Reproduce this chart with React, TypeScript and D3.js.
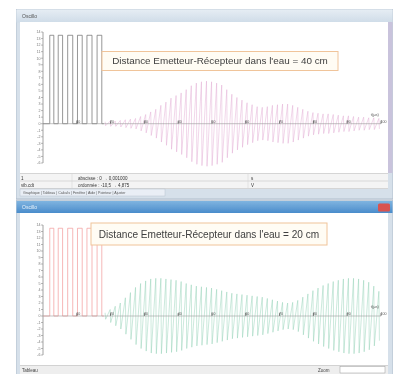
import React from "react";
import * as d3 from "d3";

// ---- data ----
const timeDomain = [0, 100];
const ampDomain = [-6, 14];
const ampTicks = d3.range(-6, 15, 1);
const timeMarks = [10, 20, 30, 40, 50, 60, 70, 80, 90, 100];

// emitter square wave: edge times and high level
const pulseEdges = [2, 3.2, 4.5, 5.8, 7.3, 8.8, 10.2, 11.6, 13, 14.5, 16, 17.4];
const pulseHigh = 13.5;

// received signal: one amplitude per cycle, starting at burstStart, period burstPeriod
const burstStart = 18;
const burstPeriod = 1.5;
const amp40cm = [
  0.3, 0.4, 0.4, 0.5, 0.6, 0.7, 0.8, 1.1,
  1.4, 1.8, 2.2, 2.8, 3.3, 3.9, 4.3, 4.7, 5.2, 5.8,
  6.2, 6.4, 6.5, 6.4, 6.2, 5.9,
  5.2, 4.5, 4.0, 3.6, 3.2, 2.9, 2.6, 2.5, 2.6, 2.8,
  2.9, 3.0, 3.0, 2.8, 2.5, 2.2, 1.9,
  1.7, 1.6, 1.5, 1.5, 1.4, 1.3, 1.2, 1.2, 1.1, 1.0, 1.0, 0.9, 0.9, 0.8,
];
const amp20cm = [
  0.5, 1.0, 1.5, 2.0, 2.8, 3.6, 4.4, 5.0, 5.4, 5.7,
  5.8, 5.8, 5.7, 5.6, 5.5, 5.3, 5.0, 4.8, 4.6, 4.5,
  4.4, 4.3, 4.1, 3.9, 3.7, 3.5, 3.4, 3.3, 3.2, 3.1,
  3.0, 2.9, 2.7, 2.5, 2.3, 2.1, 2.0, 2.1, 2.4, 2.9,
  3.4, 3.9, 4.3, 4.7, 5.0, 5.3, 5.5, 5.7, 5.8, 5.8,
  5.7, 5.5, 5.2, 4.6, 3.8,
];

const title40 = "Distance Emetteur-Récepteur dans l'eau = 40 cm";
const title20 = "Distance Emetteur-Récepteur dans l'eau = 20 cm";

type Pt = [number, number];

function pulsePoints(): Pt[] {
  const pts: Pt[] = [[0, 0]];
  let level = 0;
  pulseEdges.forEach((t) => {
    pts.push([t, level]);
    level = level === 0 ? pulseHigh : 0;
    pts.push([t, level]);
  });
  pts.push([burstStart, 0]);
  return pts;
}

function burstPoints(amps: number[]): Pt[] {
  const pts: Pt[] = [];
  amps.forEach((a, i) => {
    const t = burstStart + i * burstPeriod;
    pts.push([t + burstPeriod * 0.25, a]);
    pts.push([t + burstPeriod * 0.35, -a]);
  });
  return pts;
}

function Plot({ top, bottom, amps, waveColor, pulseColor, title, box }: {
  top: number; bottom: number; amps: number[]; waveColor: string; pulseColor: string;
  title: string; box: { x: number; y: number; w: number; h: number; fs: number };
}) {
  const x = d3.scaleLinear().domain(timeDomain).range([43, 381]);
  const y = d3.scaleLinear().domain(ampDomain).range([bottom, top]);
  const line = d3.line<Pt>().x((d) => x(d[0])).y((d) => y(d[1]));
  const y0 = y(0);
  return (
    <g>
      {/* vertical axis */}
      <line x1={x(0)} x2={x(0)} y1={y(ampDomain[1])} y2={y(ampDomain[0])} stroke="#8a8a8a" strokeWidth={0.8} />
      {ampTicks.map((t) => (
        <g key={t}>
          <line x1={x(0) - 2} x2={x(0)} y1={y(t)} y2={y(t)} stroke="#8a8a8a" strokeWidth={0.6} />
          <text x={x(0) - 2.5} y={y(t) + 1.3} fontSize={3.6} textAnchor="end" fill="#777" fontFamily="Liberation Sans, Arial">{t}</text>
        </g>
      ))}
      {/* received burst */}
      <path d={line(burstPoints(amps)) || ""} fill="none" stroke={waveColor} strokeWidth={0.55} strokeOpacity={0.85} />
      {/* emitted pulses */}
      <path d={line(pulsePoints()) || ""} fill="none" stroke={pulseColor} strokeWidth={0.7} />
      {/* time axis */}
      <line x1={x(0)} x2={x(100)} y1={y0} y2={y0} stroke="#9a9a9a" strokeWidth={0.6} />
      {timeMarks.map((t) => (
        <g key={t}>
          <line x1={x(t)} x2={x(t)} y1={y0} y2={y0 - 3} stroke="#555" strokeWidth={0.7} />
          <text x={x(t) - 0.5} y={y0 - 1} fontSize={3.6} textAnchor="start" fill="#555" fontFamily="Liberation Sans, Arial">{t}</text>
        </g>
      ))}
      <text x={x(97)} y={y0 - 8} fontSize={4} fill="#555" fontFamily="Liberation Sans, Arial">t(µs)</text>
      {/* caption box */}
      <rect x={box.x} y={box.y} width={box.w} height={box.h} fill="#fffcf4" stroke="#f0c49a" strokeWidth={1} />
      <text x={box.x + box.w / 2} y={box.y + box.h / 2 + box.fs * 0.35} fontSize={box.fs} textAnchor="middle" fill="#404040" fontFamily="Liberation Sans, Arial">{title}</text>
    </g>
  );
}

export default function App() {
  return (
    <svg width={401} height={374} style={{ position: "absolute", left: 0, top: 0 }}>
      <defs>
        <filter id="soft" x="0" y="0" width="100%" height="100%">
          <feGaussianBlur stdDeviation={0.35} />
        </filter>
        <linearGradient id="tbInactive" x1="0" y1="0" x2="0" y2="1">
          <stop offset="0" stopColor="#e6edf4" />
          <stop offset="1" stopColor="#cfdce8" />
        </linearGradient>
        <linearGradient id="tbActive" x1="0" y1="0" x2="0" y2="1">
          <stop offset="0" stopColor="#7fb4e0" />
          <stop offset="1" stopColor="#4a8ccb" />
        </linearGradient>
      </defs>
      <rect width={401} height={374} fill="#ffffff" />
      <g filter="url(#soft)">
        {/* top window frame */}
        <rect x={16} y={9} width={377} height={190} fill="#d6e0ea" stroke="#a9b6c6" strokeWidth={0.8} />
        <rect x={16.5} y={9.5} width={376} height={13} fill="url(#tbInactive)" />
        <text x={22} y={18} fontSize={5} fill="#555" fontFamily="Liberation Sans, Arial">Oscillo</text>
        <rect x={20} y={22} width={368} height={151} fill="#ffffff" />
        <rect x={388} y={22} width={4.5} height={151} fill="#c9c3dc" />
        {/* status rows */}
        <rect x={20} y={173} width={368} height={16} fill="#f4f4f4" />
        <line x1={20} x2={388} y1={173.5} y2={173.5} stroke="#c0c0c0" strokeWidth={0.6} />
        <line x1={20} x2={388} y1={181} y2={181} stroke="#c8c8c8" strokeWidth={0.6} />
        <line x1={20} x2={388} y1={188.5} y2={188.5} stroke="#c0c0c0" strokeWidth={0.6} />
        <line x1={72} x2={72} y1={174} y2={188} stroke="#d0d0d0" strokeWidth={0.5} />
        <line x1={248} x2={248} y1={174} y2={188} stroke="#d0d0d0" strokeWidth={0.5} />
        <text x={21} y={179.5} fontSize={4.5} fill="#333" fontFamily="Liberation Sans, Arial">1</text>
        <text x={78} y={179.5} fontSize={4.5} fill="#333" fontFamily="Liberation Sans, Arial">abscisse : 0 → 0,001000</text>
        <text x={251} y={179.5} fontSize={4.5} fill="#333" fontFamily="Liberation Sans, Arial">s</text>
        <text x={21} y={187} fontSize={4.5} fill="#333" fontFamily="Liberation Sans, Arial">vib.cdt</text>
        <text x={78} y={187} fontSize={4.5} fill="#333" fontFamily="Liberation Sans, Arial">ordonnée : -10,5 → 4,875</text>
        <text x={251} y={187} fontSize={4.5} fill="#333" fontFamily="Liberation Sans, Arial">V</text>
        <rect x={20} y={189} width={145} height={7} fill="#e9eef5" stroke="#b8c2d0" strokeWidth={0.5} />
        <text x={23} y={194.3} fontSize={3.6} fill="#555" fontFamily="Liberation Sans, Arial">Graphique | Tableau | Calculs | Fenêtre | Aide | Pointeur | Ajuster</text>

        {/* bottom window frame */}
        <rect x={16} y={200} width={377} height={176} fill="#d6e0ea" stroke="#a9b6c6" strokeWidth={0.8} />
        <rect x={16.5} y={201} width={376} height={12} fill="url(#tbActive)" />
        <text x={22} y={209} fontSize={5} fill="#e8f2fa" fontFamily="Liberation Sans, Arial">Oscillo</text>
        <rect x={378} y={203.5} width={12} height={8} rx={1.5} fill="#d9534f" />
        <rect x={20} y={213} width={368} height={152} fill="#ffffff" />
        <rect x={20} y={365} width={368} height={9} fill="#eeeeee" />
        <line x1={20} x2={388} y1={365.5} y2={365.5} stroke="#bfbfbf" strokeWidth={0.6} />
        <text x={22} y={371.5} fontSize={4.5} fill="#444" fontFamily="Liberation Sans, Arial">Tableau</text>
        <text x={318} y={371.5} fontSize={4.5} fill="#444" fontFamily="Liberation Sans, Arial">Zoom</text>
        <rect x={340} y={366.5} width={45} height={6.5} fill="#ffffff" stroke="#9a9a9a" strokeWidth={0.5} />

        <Plot top={32} bottom={163} amps={amp40cm} waveColor="#e0a8d2" pulseColor="#6a6a6a"
          title={title40} box={{ x: 102, y: 51.5, w: 236, h: 19, fs: 9.9 }} />
        <Plot top={225} bottom={355} amps={amp20cm} waveColor="#8fd0b4" pulseColor="#f29a9a"
          title={title20} box={{ x: 91, y: 223, w: 236, h: 22, fs: 10.1 }} />
      </g>
    </svg>
  );
}
